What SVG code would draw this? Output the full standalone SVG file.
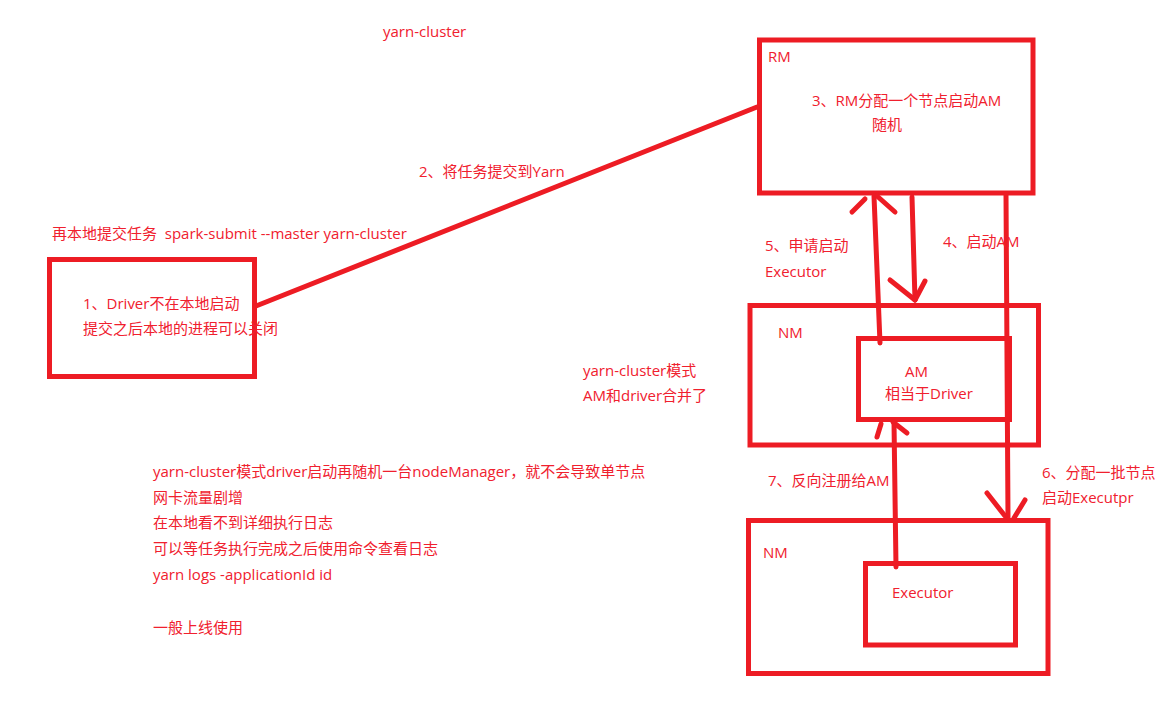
<svg xmlns="http://www.w3.org/2000/svg" width="1160" height="714" viewBox="0 0 1160 714">
<style>
.box{fill:none;stroke:#ED1C24;stroke-width:5}
.ln{fill:none;stroke:#ED1C24;stroke-width:5;stroke-linecap:round;stroke-linejoin:round}
text{font-family:"Open Sans","Noto Sans CJK SC",sans-serif;font-size:15px;fill:#F0202E;white-space:pre}
</style>
<rect width="1160" height="714" fill="#ffffff"/>
<g id="title"><text x="383" y="37">yarn-cluster</text></g>
<g id="rm">
<rect class="box" x="759.5" y="40" width="273.5" height="153"/>
<text x="768" y="62">RM</text>
<text x="812" y="106">3、RM分配一个节点启动AM</text>
<text x="872" y="130">随机</text>
</g>
<g id="driver">
<rect class="box" x="49.5" y="259.5" width="205" height="117"/>
<text x="83" y="309">1、Driver不在本地启动</text>
<text x="83" y="334">提交之后本地的进程可以关闭</text>
</g>
<g id="nm1">
<rect class="box" x="750" y="305.5" width="288.5" height="139.5"/>
<text x="778" y="338">NM</text>
</g>
<g id="am">
<rect class="box" x="858.5" y="338.5" width="151" height="81"/>
<text x="905" y="377">AM</text>
<text x="885" y="399">相当于Driver</text>
</g>
<g id="nm2">
<rect class="box" x="748.5" y="520.5" width="299.5" height="153"/>
<text x="763" y="558">NM</text>
</g>
<g id="executor">
<rect class="box" x="865.5" y="563.5" width="150" height="81.5"/>
<text x="892" y="598">Executor</text>
</g>
<g id="connectors">
<line class="ln" x1="256" y1="306" x2="757" y2="107"/>
<line class="ln" x1="880" y1="343" x2="874" y2="196"/>
<line class="ln" x1="852" y1="212" x2="865" y2="199"/>
<line class="ln" x1="877" y1="196" x2="895" y2="212"/>
<line class="ln" x1="912" y1="197" x2="915" y2="300"/>
<line class="ln" x1="890" y1="280" x2="915" y2="300"/>
<line class="ln" x1="925" y1="281" x2="915" y2="300"/>
<line class="ln" x1="1006" y1="194" x2="1008" y2="518"/>
<line class="ln" x1="987" y1="493" x2="1005" y2="516"/>
<line class="ln" x1="1025" y1="500" x2="1014" y2="518"/>
<line class="ln" x1="896" y1="567" x2="894" y2="422"/>
<line class="ln" x1="877" y1="437" x2="881" y2="424"/>
<line class="ln" x1="893" y1="422" x2="907" y2="433"/>
</g>
<g id="labels">
<text x="419" y="177">2、将任务提交到Yarn</text>
<text x="52" y="239" xml:space="preserve">再本地提交任务  spark-submit --master yarn-cluster</text>
<text x="765" y="251">5、申请启动</text>
<text x="765" y="277">Executor</text>
<text x="943" y="247">4、启动AM</text>
<text x="583" y="376">yarn-cluster模式</text>
<text x="583" y="401">AM和driver合并了</text>
<text x="768" y="486">7、反向注册给AM</text>
<text x="1042" y="478">6、分配一批节点</text>
<text x="1042" y="503">启动Executpr</text>
</g>
<g id="notes">
<text x="153" y="477">yarn-cluster模式driver启动再随机一台nodeManager，就不会导致单节点</text>
<text x="153" y="503">网卡流量剧增</text>
<text x="153" y="528">在本地看不到详细执行日志</text>
<text x="153" y="554">可以等任务执行完成之后使用命令查看日志</text>
<text x="153" y="580">yarn logs -applicationId id</text>
<text x="153" y="633">一般上线使用</text>
</g>
</svg>
